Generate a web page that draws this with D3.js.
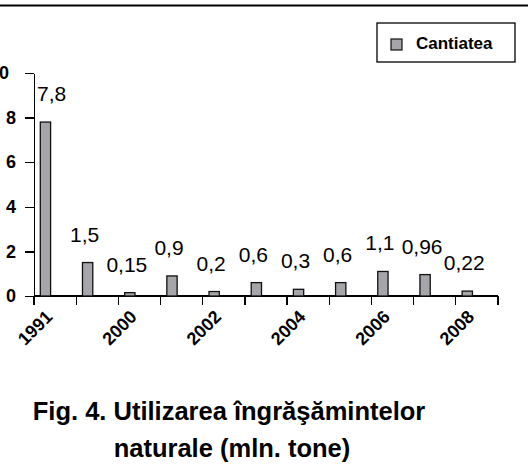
<!DOCTYPE html>
<html lang="ro">
<head>
<meta charset="utf-8">
<title>Utilizarea îngrăşămintelor naturale</title>
<script src="https://d3js.org/d3.v7.min.js"></script>
<style>
  body { margin: 0; background: #fff; }
  svg { display: block; font-family: "Liberation Sans", Arial, sans-serif; }
  .axis path, .axis line { stroke: #000; stroke-width: 1.3; shape-rendering: crispEdges; }
  .axis text { font-size: 18px; font-weight: bold; fill: #000; }
</style>
</head>
<body>
<div id="chart"></div>
<script>
// data
var years  = ["1991", "1995", "2000", "2001", "2002", "2003", "2004", "2005", "2006", "2007", "2008"];
var values = [7.8, 1.5, 0.15, 0.9, 0.2, 0.6, 0.3, 0.6, 1.1, 0.96, 0.22];
var labels = ["7,8", "1,5", "0,15", "0,9", "0,2", "0,6", "0,3", "0,6", "1,1", "0,96", "0,22"];
var yTicks = [0, 2, 4, 6, 8, 10];
var seriesName = "Cantiatea";
var titleLines = ["Fig. 4. Utilizarea îngrăşămintelor", "naturale (mln. tone)"];

var W = 528, H = 464;
var barFill = "#a6a6aa";

var svg = d3.select("#chart").append("svg")
    .attr("width", W)
    .attr("height", H);

// rule across the top
svg.append("line")
    .attr("x1", 0).attr("x2", W)
    .attr("y1", 5.5).attr("y2", 5.5)
    .attr("stroke", "#000")
    .attr("stroke-width", 2);

var x = d3.scaleBand()
    .domain(years)
    .range([34, 498])
    .padding(0);

var y = d3.scaleLinear()
    .domain([0, 10])
    .range([296, 73]);

// y axis
var yAxis = svg.append("g")
    .attr("class", "axis")
    .attr("transform", "translate(34,0)")
    .call(d3.axisLeft(y).tickValues(yTicks).tickSize(9).tickSizeOuter(0).tickPadding(9));

// the top label runs off the left edge in the original
yAxis.selectAll(".tick text")
    .filter(function(d){ return d === 10; })
    .attr("dx", -7);

// x axis: line plus ticks between categories
var xAxis = svg.append("g").attr("class", "axis");
xAxis.append("path")
    .attr("d", "M" + x.range()[0] + ",296H" + x.range()[1]);
xAxis.selectAll("line")
    .data(years.map(function(d){ return x(d); }).concat([x.range()[1]]))
    .enter()
    .append("line")
    .attr("x1", function(d){ return d; })
    .attr("x2", function(d){ return d; })
    .attr("y1", 296)
    .attr("y2", 305);

// only every other category gets a label
xAxis.selectAll("text")
    .data(years.filter(function(d, i){ return i % 2 === 0; }))
    .enter()
    .append("text")
    .attr("transform", function(d){
        return "translate(" + (x(d) + x.bandwidth() / 2 - 1.5) + ",318) rotate(-45)";
    })
    .attr("text-anchor", "end")
    .text(function(d){ return d; });

// bars
svg.append("g")
    .selectAll("rect")
    .data(values)
    .enter()
    .append("rect")
    .attr("x", function(d, i){ return x(years[i]) + 6.3; })
    .attr("y", function(d){ return y(d); })
    .attr("width", 10.3)
    .attr("height", function(d){ return y(0) - y(d); })
    .attr("fill", barFill)
    .attr("stroke", "#111")
    .attr("stroke-width", 1.3);

// value labels, kept inside the plot area
svg.append("g")
    .selectAll("text")
    .data(values)
    .enter()
    .append("text")
    .attr("font-size", "21px")
    .attr("fill", "#000")
    .attr("text-anchor", "middle")
    .attr("y", function(d){ return y(d) - 21; })
    .text(function(d, i){ return labels[i]; })
    .attr("x", function(d, i){
        var cx = x(years[i]) + 6.3 + 5.15 - 3;
        var half = this.getComputedTextLength() / 2;
        return Math.max(cx, 37 + half);
    });

// legend
var legend = svg.append("g");
legend.append("rect")
    .attr("x", 377).attr("y", 23)
    .attr("width", 138).attr("height", 39)
    .attr("fill", "#fff")
    .attr("stroke", "#000")
    .attr("stroke-width", 1.3);
legend.append("rect")
    .attr("x", 391).attr("y", 39)
    .attr("width", 11).attr("height", 11)
    .attr("fill", barFill)
    .attr("stroke", "#111")
    .attr("stroke-width", 1.2);
legend.append("text")
    .attr("x", 416).attr("y", 48.5)
    .attr("font-size", "17px")
    .attr("font-weight", "bold")
    .text(seriesName);

// caption
svg.selectAll(".title")
    .data(titleLines)
    .enter()
    .append("text")
    .attr("class", "title")
    .attr("x", function(d, i){ return i === 0 ? 229 : 232; })
    .attr("y", function(d, i){ return 420 + i * 37; })
    .attr("text-anchor", "middle")
    .attr("font-size", "25.5px")
    .attr("font-weight", "bold")
    .text(function(d){ return d; });
</script>
</body>
</html>
